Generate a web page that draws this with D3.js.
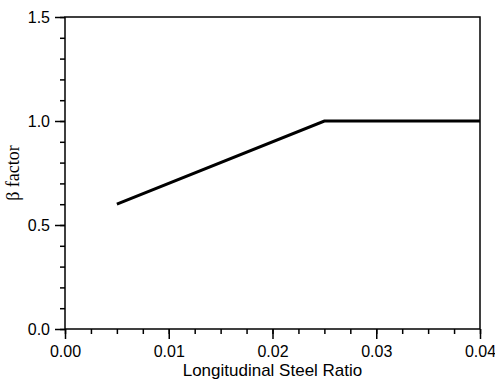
<!DOCTYPE html>
<html>
<head>
<meta charset="utf-8">
<script src="https://cdn.jsdelivr.net/npm/d3@7"></script>
<style>
  body { margin: 0; background: #fff; }
  svg { display: block; }
</style>
</head>
<body>
<div id="chart"></div>
<script>
// data
const steelRatio = [0.005, 0.025, 0.04];
const betaFactor = [0.6, 1.0, 1.0];
const xTicks = [0, 0.01, 0.02, 0.03, 0.04];
const yTicks = [0, 0.5, 1.0, 1.5];

const width = 495, height = 381;
const margin = {top: 17, right: 15, bottom: 52, left: 65};
const sans = 'Arial, "Liberation Sans", sans-serif';

const svg = d3.select('#chart').append('svg')
    .attr('width', width)
    .attr('height', height);

const x = d3.scaleLinear()
  .domain([0, 0.04])
  .range([margin.left, width - margin.right]);

const y = d3.scaleLinear()
  .domain([0, 1.5])
  .range([height - margin.bottom, margin.top]);

// minor ticks
svg.append('g')
    .attr('transform', `translate(0,${y(0)})`)
    .call(d3.axisBottom(x).tickValues(d3.range(0, 0.0401, 0.0025)).tickSize(5).tickFormat(''))
    .call(g => g.select('.domain').remove())
    .call(g => g.selectAll('line').attr('stroke-width', 1.5));

svg.append('g')
    .attr('transform', `translate(${x(0)},0)`)
    .call(d3.axisLeft(y).tickValues(d3.range(0, 1.501, 0.1)).tickSize(5).tickFormat(''))
    .call(g => g.select('.domain').remove())
    .call(g => g.selectAll('line').attr('stroke-width', 1.5));

// major ticks + labels
svg.append('g')
    .attr('transform', `translate(0,${y(0)})`)
    .call(d3.axisBottom(x).tickValues(xTicks).tickSize(10).tickPadding(7).tickFormat(d3.format('.2f')))
    .call(g => g.select('.domain').remove())
    .call(g => g.selectAll('line').attr('stroke-width', 1.5))
    .call(g => g.selectAll('text')
      .attr('font-family', sans)
      .attr('font-size', 16)
      .attr('fill', '#000'));

svg.append('g')
    .attr('transform', `translate(${x(0)},0)`)
    .call(d3.axisLeft(y).tickValues(yTicks).tickSize(10).tickPadding(5).tickFormat(d3.format('.1f')))
    .call(g => g.select('.domain').remove())
    .call(g => g.selectAll('line').attr('stroke-width', 1.5))
    .call(g => g.selectAll('text')
      .attr('font-family', sans)
      .attr('font-size', 16)
      .attr('fill', '#000'));

// frame
svg.append('rect')
    .attr('x', x(0))
    .attr('y', y(1.5))
    .attr('width', x(0.04) - x(0))
    .attr('height', y(0) - y(1.5))
    .attr('fill', 'none')
    .attr('stroke', '#000')
    .attr('stroke-width', 1.5);

// beta curve
const line = d3.line()
  .x((d, i) => x(steelRatio[i]))
  .y(d => y(d));

svg.append('path')
    .datum(betaFactor)
    .attr('d', line)
    .attr('fill', 'none')
    .attr('stroke', '#000')
    .attr('stroke-width', 3);

// axis titles
svg.append('text')
    .attr('x', (x(0) + x(0.04)) / 2)
    .attr('y', 376)
    .attr('text-anchor', 'middle')
    .attr('font-family', sans)
    .attr('font-size', 17)
    .text('Longitudinal Steel Ratio');

svg.append('text')
    .attr('transform', `translate(19,${(y(0) + y(1.5)) / 2}) rotate(-90)`)
    .attr('text-anchor', 'middle')
    .attr('font-family', '"Liberation Serif", "Times New Roman", serif')
    .attr('font-size', 18)
    .text('β factor');
</script>
</body>
</html>
